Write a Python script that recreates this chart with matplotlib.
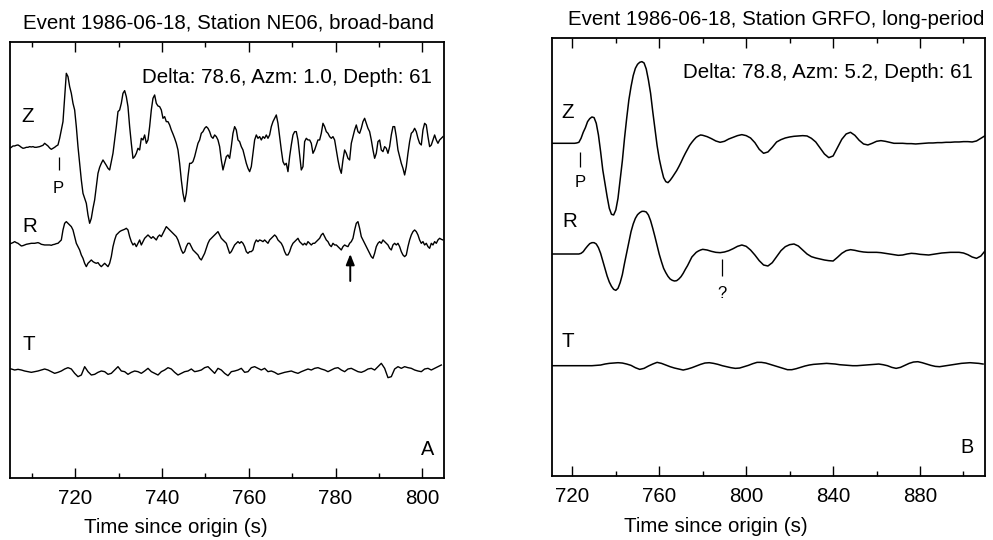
import numpy as np
import matplotlib
matplotlib.use("Agg")
import matplotlib.pyplot as plt

plt.rcParams['font.family'] = ['Liberation Sans', 'DejaVu Sans']

# ------------------------------------------------------------------
# Panel A : Station NE06, broad-band (amplitudes in arbitrary units)
# ------------------------------------------------------------------
A_title = "Event 1986-06-18, Station NE06, broad-band"
A_info = "Delta: 78.6, Azm: 1.0, Depth: 61"
A_tag = "A"
A_t0 = 704.92      # s, first sample of Z and R
A_dt = 0.384       # s, sample interval of Z and R
A_Z = [-3, 0, 4, 4, 6, 7, 4, 0, -3, -2,
       0, 0, 2, 1, 2, 0, 0, 1, 2, 4,
       6, 12, 8, 4, -2, -6, -3, 0, 4, 7,
       27, 52, 77, 152, 222, 212, 182, 162, 132, 112,
       62, 2, -48, -98, -138, -153, -168, -203, -228, -213,
       -183, -158, -118, -78, -60, -48, -38, -46, -54, -63,
       -68, -43, -18, 22, 62, 107, 112, 132, 162, 170,
       152, 122, 62, 12, -33, -28, -18, -3, -8, 27,
       22, 37, 12, 22, 62, 112, 147, 157, 132, 124,
       122, 112, 87, 92, 77, 77, 67, 52, 40, 27,
       12, -8, -48, -98, -138, -163, -138, -88, -48, -48,
       -43, -28, -8, 12, 22, 42, 47, 57, 62, 57,
       47, 32, 27, 37, 32, 22, 2, -38, -68, -48,
       -28,
       -23, -33, 2, 42, 62, 52, 22, 17, 2, -8,
       -28, -48, -63, -73, -58, -18, 22, 37, 27, 32,
       22, 32, 27, 37, 27, 37, 62, 77, 87, 97,
       72, 32, -8, -43, -53, -48, -73, -28, 7, 37,
       47, 47, 22, -23, -68, -58, 17, 27, 22, 22,
       12, -18, -8, 7, 22, 22, 42, 72, 62, 47,
       42, 32, 27, 32, 22, -8, -38, -63, -78, -38,
       -8, -18, -33, -38, 12, 32, 52, 67, 47, 42,
       57, 77, 87, 72, 57, 47, 22, -8, -33, -18,
       17, 22, -8, -13, 2, -3, -18, 2, 37, 62,
       62, 32, -8, -28, -48, -63, -83, -58, -18, 17,
       42, 47, 57, 47, 27, 12, 7, 52, 72, 67,
       32, 2, 7, 22, 37, 22, 12, 22, 27, 32]
A_R = [1, 3, 5, 8, 5, 3, -1, -5, -4, -2,
       0, 1, 2, 3, 3, 3, 4, 5, 3, 0,
       -1, -2, -2, -2, -2, -3, -1, 0, 2, 3,
       8, 13, 43, 63, 68, 63, 58, 53, 43, 23,
       3, -7, -17, -32, -42, -57, -67, -57, -52, -47,
       -52, -55, -57, -55, -62, -67, -62, -57, -62, -67,
       -57, -37, -7, 13, 28, 33, 38, 41, 43, 45,
       48, 43, 23, 8, -2, 3, -7, 3, 13, -2,
       8, 18, 23, 28, 23, 18, 23, 18, 13, 23,
       28, 23, 33, 43, 53, 48, 43, 38, 33, 28,
       23, 13, -2, -17, -27, -22, -7, 3, 3, -7,
       -17, -22, -27, -32, -42, -47, -37, -27, -12, 3,
       13, 18, 23, 28, 33, 38, 28, 18, 13, 8,
       3, -12, -27, -22, -12, -2, 3, 8, 3, 8,
       3, -7, -22, -27, -22, -22, -17, 3, 13, 8,
       13, 11, 8, 13, 8, 3, 13, 18, 23, 28,
       23, 13, 8, 3, -7, -22, -32, -32, -22, -7,
       3, 8, 13, 18, 8, 3, -2, 3, -2, 8,
       3, -2, 3, 3, 8, 13, 18, 28, 33, 23,
       13, 8, -2, -7, 3, -2, -2, -7, -12, -17,
       -7, -2, -5, -7, 3, 8, 18, 43, 63, 68,
       48, 23, 13, 3, -7, -17, -27, -37, -42, -27,
       -7, 3, 8, 3, 13, 8, 3, -2, -12, -17,
       -2, 3, -2, 3, -7, -22, -32, -37, -32, -7,
       13, 28, 38, 43, 38, 28, 13, 3, 8, -2,
       3, -7, -12, 3, -2, 8, 3, 13, 18, 15,
       13]
A_T_t0 = 704.54    # s
A_T_dt = 0.768     # s
A_T = [5, 3, 0, 2, 0, -3, -5, -7, -5, -3,
       0, 3, 0, -5, -10, -7, -3, 3, 7, 3,
       -10, -20, -15, 10, -5, -15, -13, -7, -3, -5,
       -13, -10, 0, 10, -3, -5, -13, -7, -3, -5,
       -10, -3, 5, -5, -10, -15, -5, 0, 7, 3,
       -7, -15, -10, -5, -3, 3, -5, -3, 0, 7,
       10, 0, -10, 5, 0, -10, -17, -5, -3, 0,
       5, -7, -5, 7, 10, 5, 0, 5, -5, -3,
       -7, -13, -10, -7, -5, -3, -7, -10, -5, -1,
       3, 0, 5, 7, 3, 0, -5, 0, 5, 7,
       0, -5, 3, 5, 0, -5, -7, -3, 3, 5,
       0, 10, 20, 5, -23, -20, 3, 10, 5, 10,
       7, 5, 0, -3, -5, 3, 5, 0, 5, 10,
       15]
A_xlim = (705, 805)
A_major = [720, 740, 760, 780, 800]
A_minor = [710, 730, 750, 770, 790]
A_P_time = 716.2
A_arrow_time = 783.4

# ------------------------------------------------------------------
# Panel B : Station GRFO, long-period
# ------------------------------------------------------------------
B_title = "Event 1986-06-18, Station GRFO, long-period"
B_info = "Delta: 78.8, Azm: 5.2, Depth: 61"
B_tag = "B"
B_t_ZR = list(range(711, 780)) + list(range(780, 911, 2))
B_Z = [0, 0, 0, 0, 0, 0, 0, 0, 0, 0, 0, 1,
       3, 15, 33, 47, 65, 74, 79, 77, 60, 25, -25, -80, -120, -160, -195,
       -213, -215, -200, -165, -110, -53, 15, 75, 130, 170, 203, 225, 237,
       243, 245, 241, 223, 190, 150, 95, 43, -7, -47, -77, -103, -115,
       -118, -111, -102, -92, -82, -70, -57, -43, -30, -18, -6, 3, 11, 18,
       22, 25,
       24, 20, 14, 7, 3, 6, 13, 18, 23, 26,
       23, 16, 2, -18, -30, -26, -12, 4, 11, 16,
       19, 21, 22, 23, 22, 15, 4, -14, -32, -43,
       -38, -13, 12, 28, 33, 24, 9, -2, -5, 0,
       6, 8, 6, 3, 0, 0, 0, -1, -1, -2,
       -1, 0, 1, 1, 2, 2, 3, 3, 4, 4,
       5, 5, 4, 7, 15, 23]
B_R = [0, 0, 0, 0, 0, 0, 0, 0, 0, 0, 0, 0, 0,
       2, 7, 16, 24, 31, 34, 34, 30, 19, 2, -21, -43, -66, -84, -97, -106,
       -109, -103, -86, -62, -28, 4, 37, 67, 90, 107, 118, 124, 128, 128,
       126, 117, 100, 77, 52, 25, -1, -23, -43, -56, -67, -75, -79, -81,
       -80, -75, -68, -58, -46, -35, -22, -9, -2, 5, 9, 12,
       14, 12, 8, 5, 4, 6, 10, 16, 23, 27,
       23, 12, -3, -20, -33, -36, -26, -8, 10, 22,
       28, 30, 24, 12, 0, -8, -12, -15, -18, -20,
       -21, -10, 2, 10, 13, 11, 8, 6, 5, 5,
       5, 4, 2, 0, -2, -4, -3, 0, 2, 1,
       -1, -2, -3, -1, 1, 3, 4, 5, 5, 5,
       3, -2, -9, -13, -6, 10]
B_T_t = list(range(711, 910, 2))
B_T = [0, 0, 0, 0, 0, 0, 0, 0, 0, 0,
       1, 2, 5, 7, 8, 9, 8, 5, 1, -6,
       -11, -8, -1, 5, 10, 7, 2, -3, -7, -10,
       -13, -10, -6, -1, 4, 8, 9, 7, 4, 0,
       -3, -6, -8, -7, -3, 1, 6, 10, 10, 8,
       4, 0, -4, -8, -12, -12, -9, -5, -1, 2,
       4, 5, 6, 7, 6, 5, 3, 2, 1, 0,
       0, 1, 2, 3, 4, 5, 3, 0, -5, -8,
       -5, 1, 7, 11, 12, 9, 5, 1, -2, -3,
       -1, 1, 3, 5, 7, 8, 9, 8, 7, 5]
B_xlim = (710.4, 909.9)
B_major = [720, 760, 800, 840, 880]
B_minor = [740, 780, 820, 860, 900]
B_P_time = 723.5
B_q_time = 788.75

COMPONENTS = ["Z", "R", "T"]
XLABEL = "Time since origin (s)"

# ------------------------------------------------------------------
# Layout / style (pixel-based placement)
# ------------------------------------------------------------------
W, H = 993, 540
GAIN = 1 / 3.0
FS = 14.8
fig = plt.figure(figsize=(W / 100, H / 100), dpi=100)


def fx(x):
    return x / W


def fy(y):
    return 1 - y / H


axA = fig.add_axes([fx(10), fy(478), 434 / W, 436 / H])
axB = fig.add_axes([fx(551.5), fy(476), 433.5 / W, 438 / H])
axA.set_ylim(0, 436)
axB.set_ylim(0, 438)

tA = A_t0 + A_dt * np.arange(len(A_Z))
tAR = A_t0 + A_dt * np.arange(len(A_R))
tAT = A_T_t0 + A_T_dt * np.arange(len(A_T))
offA = {"Z": 330.7, "R": 233.7, "T": 108.0}
axA.plot(tA, offA["Z"] + np.array(A_Z) * GAIN, color="k", lw=1.0)
axA.plot(tAR, offA["R"] + np.array(A_R) * GAIN, color="k", lw=1.0)
axA.plot(tAT, offA["T"] + np.array(A_T) * GAIN, color="k", lw=1.0)

offB = {"Z": 332.7, "R": 222.0, "T": 110.3}
axB.plot(B_t_ZR, offB["Z"] + np.array(B_Z) * GAIN, color="k", lw=1.1)
axB.plot(B_t_ZR, offB["R"] + np.array(B_R) * GAIN, color="k", lw=1.1)
axB.plot(B_T_t, offB["T"] + np.array(B_T) * GAIN, color="k", lw=1.1)

for ax, xlim, major, minor in [(axA, A_xlim, A_major, A_minor),
                               (axB, B_xlim, B_major, B_minor)]:
    ax.set_xlim(*xlim)
    ax.set_xticks(major)
    ax.set_xticks(minor, minor=True)
    ax.set_yticks([])
    ax.tick_params(axis="x", which="both", direction="in", top=True,
                   bottom=True, labelsize=FS, pad=8, width=1.0, color="k")
    ax.tick_params(axis="x", which="major", length=7.5)
    ax.tick_params(axis="x", which="minor", length=3.8)
    for s in ax.spines.values():
        s.set_linewidth(1.3)
        s.set_color("k")

# x labels (offset to the left as in the original)
axA.set_xlabel(XLABEL, fontsize=FS, va="baseline", ha="center")
axA.xaxis.set_label_coords((176 - 10) / 434, (478 - 533) / 436)
axB.set_xlabel(XLABEL, fontsize=FS, va="baseline", ha="center")
axB.xaxis.set_label_coords((716 - 551.5) / 433.5, (476 - 531.7) / 438)

# titles
fig.text(fx(228.5), fy(28.3), A_title, fontsize=FS, ha="center", va="baseline")
fig.text(fx(776), fy(25), B_title, fontsize=FS, ha="center", va="baseline")

# info lines
fig.text(fx(432), fy(83.3), A_info, fontsize=FS, ha="right", va="baseline")
fig.text(fx(973), fy(77.7), B_info, fontsize=FS, ha="right", va="baseline")

# component labels
for comp, (x, y) in zip(COMPONENTS, [(28, 121.7), (29.7, 231.7), (29.3, 350)]):
    fig.text(fx(x), fy(y), comp, fontsize=FS, ha="center", va="baseline")
for comp, (x, y) in zip(COMPONENTS, [(568, 118.3), (570, 227.3), (568, 346.7)]):
    fig.text(fx(x), fy(y), comp, fontsize=FS, ha="center", va="baseline")

# panel tags
fig.text(fx(428), fy(455), A_tag, fontsize=FS - 0.5, ha="center", va="baseline")
fig.text(fx(966.7), fy(452.7), B_tag, fontsize=FS - 0.5, ha="center", va="baseline")

# P picks
axA.vlines(A_P_time, 308, 321.3, color="k", lw=0.9)
axA.text(A_P_time, 478 - 193.3, "P", fontsize=12, ha="center", va="baseline")
axB.vlines(B_P_time, 309.3, 324.3, color="k", lw=0.9)
axB.text(B_P_time, 476 - 186.7, "P", fontsize=12, ha="center", va="baseline")

# question-mark pick on GRFO R
axB.vlines(B_q_time, 200, 217, color="k", lw=0.9)
axB.text(B_q_time, 476 - 298.3, "?", fontsize=12, ha="center", va="baseline")

# arrow on NE06 R
axA.annotate("", xy=(A_arrow_time, 478 - 254), xytext=(A_arrow_time, 478 - 281),
             arrowprops=dict(arrowstyle="-|>,head_length=0.45,head_width=0.18",
                             color="k", lw=1.4, mutation_scale=14,
                             shrinkA=0, shrinkB=0))

fig.savefig("out.png", dpi=100)
